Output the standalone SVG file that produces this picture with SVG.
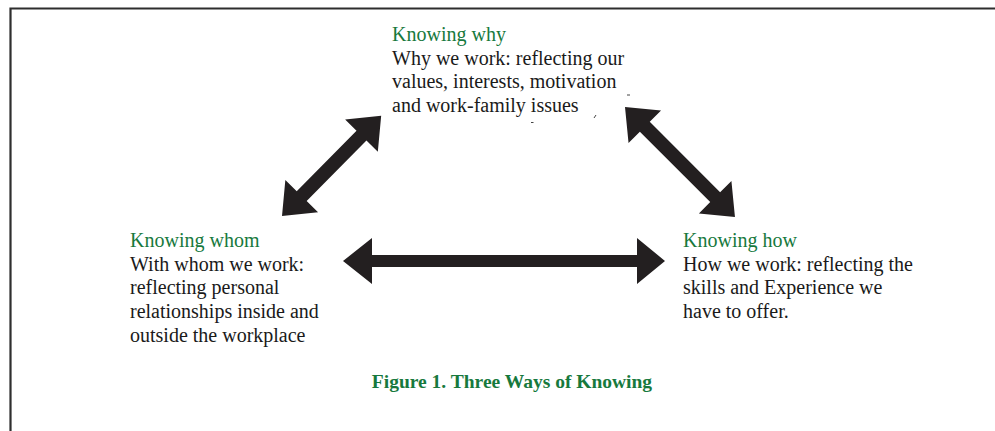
<svg xmlns="http://www.w3.org/2000/svg" width="995" height="431" viewBox="0 0 995 431">
<style>
text{font-family:"Liberation Serif","Times New Roman",serif;font-size:20px;fill:#1a1a1a}
.h{fill:#17793d}
.cap{fill:#17793d;font-weight:bold;font-size:19.5px}
.arrow{fill:#231f20}
.mark{stroke:#444;stroke-width:1;fill:none}
</style>
<rect width="995" height="431" fill="#fff"/>
<path d="M10.5,431 V8.5 H995" fill="none" stroke="#2e2e2e" stroke-width="2.2"/>
<g id="connectors">
<polygon class="arrow" transform="translate(282,216) rotate(-45.3)" points="0,0 28,-23 28,-7 113,-7 113,-23 141,0 113,23 113,7 28,7 28,23"/>
<polygon class="arrow" transform="translate(625,107) rotate(45)" points="0,0 28,-23 28,-7 127.5,-7 127.5,-23 155.5,0 127.5,23 127.5,7 28,7 28,23"/>
<polygon class="arrow" points="343,261 372,238 372,255 637,255 637,238 665,261 637,284 637,267 372,267 372,284"/>
</g>
<g id="node-why">
<text x="392" y="41" class="h">Knowing why</text>
<text x="392" y="64.5">Why we work: reflecting our</text>
<text x="392" y="88">values, interests, motivation</text>
<text x="392" y="111.5">and work-family issues</text>
</g>
<g id="node-whom">
<text x="130" y="247" class="h">Knowing whom</text>
<text x="130" y="270.5">With whom we work:</text>
<text x="130" y="294">reflecting personal</text>
<text x="130" y="318">relationships inside and</text>
<text x="130" y="341.5">outside the workplace</text>
</g>
<g id="node-how">
<text x="683" y="247" class="h">Knowing how</text>
<text x="683" y="270.5">How we work: reflecting the</text>
<text x="683" y="294">skills and Experience we</text>
<text x="683" y="318">have to offer.</text>
</g>
<g id="caption">
<text x="512" y="388" class="cap" text-anchor="middle">Figure 1. Three Ways of Knowing</text>
</g>
<path class="mark" d="M531,122.5 h2.5 M594,118 l2,-3 M627,95 h3"/>
</svg>
